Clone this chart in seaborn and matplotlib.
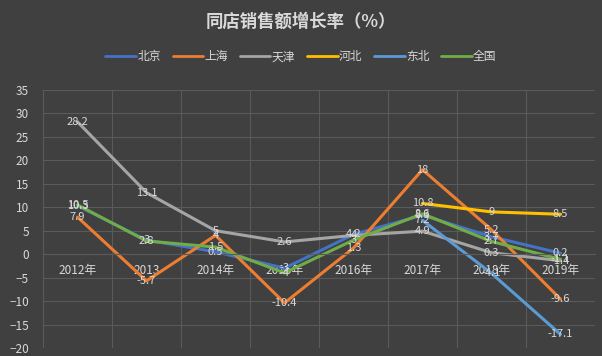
import matplotlib
matplotlib.use("Agg")
import matplotlib.pyplot as plt
import seaborn as sns
import pandas as pd
import numpy as np

years = ["2012年", "2013", "2014年", "2015年", "2016年", "2017年", "2018年", "2019年"]

beijing = [10.3, 3.0, 0.5, -3, 4.2, 8.3, 3.7, 0.2]
shanghai = [7.9, -5.7, 4, -10.4, 1.3, 18, 5.2, -9.6]
tianjin = [28.2, 13.1, 5, 2.6, 4.0, 4.9, 0.3, -1.4]
hebei = [np.nan, np.nan, np.nan, np.nan, np.nan, 10.8, 9, 8.5]
dongbei = [np.nan, np.nan, np.nan, np.nan, np.nan, 7.2, -4.1, -17.1]
quanguo = [10.5, 2.8, 1.5, -4, 3, 8.6, 2.7, -1.1]

series = ["北京", "上海", "天津", "河北", "东北", "全国"]
colors = ["#4472C4", "#ED7D31", "#A5A5A5", "#FFC000", "#5B9BD5", "#70AD47"]

rows = []
for name, vals in zip(series, [beijing, shanghai, tianjin, hebei, dongbei, quanguo]):
    for i, v in enumerate(vals):
        rows.append({"year": i, "value": v, "region": name})
df = pd.DataFrame(rows)

bg = "#404040"
txt = "#D9D9D9"
grid = "#5A5A5A"

sns.set_style("dark")
plt.rcParams["font.family"] = ["Noto Sans CJK SC", "DejaVu Sans"]

fig = plt.figure(figsize=(6.02, 3.56), dpi=100, facecolor=bg)
ax = fig.add_axes([0.0714, 0.0225, 0.917, 0.725])
ax.set_facecolor(bg)

sns.lineplot(data=df.dropna(), x="year", y="value", hue="region", hue_order=series,
             palette=colors, linewidth=2.2, ax=ax, legend=False)

# data labels, centred on the points like the original
for name, vals in zip(series, [beijing, shanghai, tianjin, hebei, dongbei, quanguo]):
    for i, v in enumerate(vals):
        if not np.isnan(v):
            ax.text(i, v, f"{v:g}", ha="center", va="center", fontsize=8, color=txt)

ax.set_xlim(-0.5, 7.5)
ax.set_ylim(-20, 35)
ax.set_yticks(range(-20, 36, 5))
ax.set_xticks(range(8))
ax.set_xticklabels(years)
ax.set_xticks(np.arange(-0.5, 8, 1), minor=True)
ax.grid(True, axis="y", color=grid, linewidth=0.8)
ax.grid(True, axis="x", which="minor", color=grid, linewidth=0.8)
ax.grid(False, axis="x", which="major")
ax.tick_params(axis="both", which="both", length=0, colors=txt, labelsize=8.5)
ax.tick_params(axis="x", pad=7)
ax.tick_params(axis="y", pad=10)
ax.set_xlabel("")
ax.set_ylabel("")

for side in ["top", "right", "left"]:
    ax.spines[side].set_visible(False)
ax.spines["bottom"].set_position(("data", 0))
ax.spines["bottom"].set_color(grid)

handles = [plt.Line2D([0], [0], color=c, linewidth=2) for c in colors]
fig.legend(handles, series, loc="center", bbox_to_anchor=(0.5, 0.84), ncol=6,
           frameon=False, fontsize=8.5, labelcolor=txt, handlelength=2.6,
           handletextpad=0.1, columnspacing=1.0)

fig.text(0.5, 0.94, "同店销售额增长率（%）", ha="center", va="center",
         fontsize=12.5, fontweight="bold", color=txt)

fig.savefig("out.png", dpi=100, facecolor=bg)
